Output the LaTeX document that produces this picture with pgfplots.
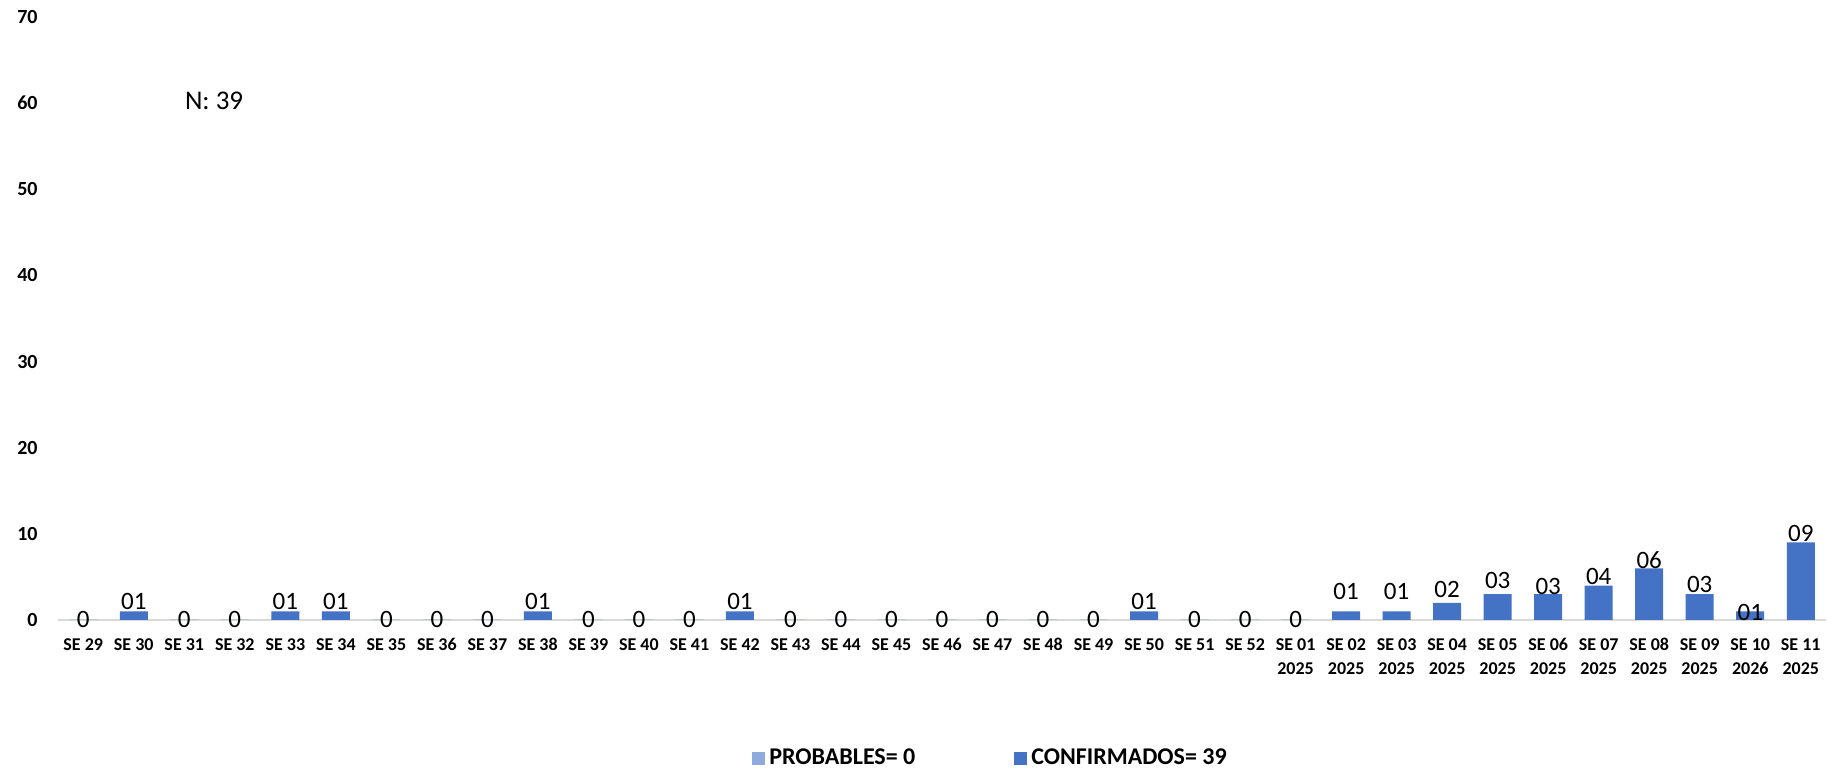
\documentclass[border=0pt]{standalone}
\usepackage{pgfplots}
\pgfplotsset{compat=1.18}
\usepackage{pgfplotstable}
\usepackage{fontspec}
\setmainfont{Carlito}
\definecolor{confirm}{HTML}{4472C4}
\definecolor{probab}{HTML}{8FAADC}
\definecolor{axisgray}{HTML}{D9D9D9}

% x = week index, y = cases, lab = printed label, dy = label shift (pt)
\pgfplotstableread{
x  y  lab  dy
0  0  0    -4
1  1  01   1
2  0  0    -4
3  0  0    -4
4  1  01   1
5  1  01   1
6  0  0    -4
7  0  0    -4
8  0  0    -4
9  1  01   1
10 0  0    -4
11 0  0    -4
12 0  0    -4
13 1  01   1
14 0  0    -4
15 0  0    -4
16 0  0    -4
17 0  0    -4
18 0  0    -4
19 0  0    -4
20 0  0    -4
21 1  01   1
22 0  0    -4
23 0  0    -4
24 0  0    -4
25 1  01   6
26 1  01   6
27 2  02   2.5
28 3  03   3
29 3  03   0
30 4  04   0.5
31 6  06   0
32 3  03   1
33 1  01   -4.5
34 9  09   0.5
}\confirmados

\pgfplotstableread{
x  y
0  0
1  0
2  0
3  0
4  0
5  0
6  0
7  0
8  0
9  0
10 0
11 0
12 0
13 0
14 0
15 0
16 0
17 0
18 0
19 0
20 0
21 0
22 0
23 0
24 0
25 0
26 0
27 0
28 0
29 0
30 0
31 0
32 0
33 0
34 0
}\probables

\begin{document}
\begin{tikzpicture}
\path[use as bounding box] (0,0) rectangle (923.5pt,385pt);
\begin{axis}[
    at={(29pt,75pt)}, anchor=south west,
    scale only axis,
    width=884pt, height=301.5pt,
    xmin=-0.5, xmax=34.5,
    ymin=0, ymax=70,
    separate axis lines,
    axis x line*=bottom, axis y line*=left,
    x axis line style={axisgray, line width=1pt, -},
    y axis line style={draw=none},
    major tick length=0pt,
    tick style={draw=none},
    ytick={0,10,...,70},
    yticklabel style={font=\bfseries\fontsize{10}{12}\selectfont, inner sep=0pt, xshift=-10pt},
    /pgf/number format/assume math mode=true,
    xtick={0,...,34},
    xticklabels={SE 29,SE 30,SE 31,SE 32,SE 33,SE 34,SE 35,SE 36,SE 37,SE 38,SE 39,SE 40,SE 41,SE 42,SE 43,SE 44,SE 45,SE 46,SE 47,SE 48,SE 49,SE 50,SE 51,SE 52,
      {SE 01\\2025},{SE 02\\2025},{SE 03\\2025},{SE 04\\2025},{SE 05\\2025},{SE 06\\2025},{SE 07\\2025},{SE 08\\2025},{SE 09\\2025},{SE 10\\2026},{SE 11\\2025}},
    xticklabel style={font=\bfseries\fontsize{9}{12}\selectfont, align=center, inner sep=0pt, yshift=-9pt},
    ybar, bar width=14pt,
    legend columns=2,
    legend style={at={(0.3925,-0.2289)}, anchor=west, draw=none, inner sep=0pt,
      font=\bfseries\fontsize{12}{14}\selectfont,
      /tikz/every even column/.append style={column sep=47.5pt}},
]
\addplot[bar shift=0pt, draw=none, fill=probab,
    legend image code/.code={\fill[probab] (0pt,-3.25pt) rectangle (6.5pt,3.25pt);}]
    table[x=x, y=y] {\probables};
\addlegendentry{PROBABLES= 0}

\addplot[bar shift=0pt, draw=none, fill=confirm,
    legend image code/.code={\fill[confirm] (0pt,-3.25pt) rectangle (6.5pt,3.25pt);},
    point meta=explicit symbolic,
    visualization depends on={\thisrow{dy} \as \labdy},
    nodes near coords,
    nodes near coords style={font=\fontsize{12.5}{14}\selectfont, anchor=base, inner sep=0pt, yshift=\labdy pt, text=black}]
    table[x=x, y=y, meta=lab] {\confirmados};
\addlegendentry{CONFIRMADOS= 39}

\node[font=\fontsize{13.5}{16}\selectfont] at (axis cs:2.59,60.25) {N: 39};
\end{axis}
\end{tikzpicture}
\end{document}
